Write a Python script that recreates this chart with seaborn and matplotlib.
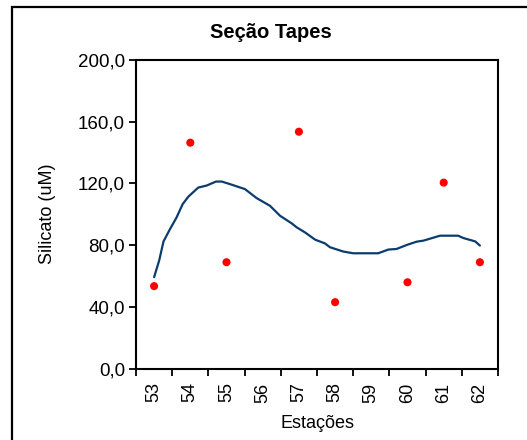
import matplotlib
matplotlib.use("Agg")
import matplotlib.pyplot as plt
import matplotlib.patches as mpatches
import numpy as np
import pandas as pd
import seaborn as sns

# Data
stations = [53, 54, 55, 56, 57, 58, 59, 60, 61, 62]
obs_station = [53, 54, 55, 57, 58, 60, 61, 62]
obs_silicato = [53.4, 146.4, 68.9, 153.5, 43.0, 55.9, 120.5, 68.9]

trend_x = [53.0, 53.14, 53.26, 53.44, 53.62, 53.79, 53.95, 54.22, 54.45, 54.71,
           54.87, 55.10, 55.51, 55.83, 56.20, 56.48, 56.80, 56.94, 57.17, 57.45,
           57.72, 57.86, 58.23, 58.50, 59.19, 59.47, 59.70, 59.98, 60.25, 60.44,
           60.90, 61.40, 61.54, 61.87, 62.0]
trend_y = [59.2, 70.0, 82.4, 90.4, 97.9, 106.6, 111.5, 117.3, 118.6, 121.2,
           121.2, 119.5, 116.3, 110.5, 105.5, 99.0, 94.1, 91.5, 88.2, 83.5,
           81.1, 78.6, 75.8, 74.7, 74.7, 77.1, 77.5, 80.1, 82.2, 82.9,
           86.1, 86.1, 84.6, 82.4, 79.7]

y_ticks = [0, 40, 80, 120, 160, 200]
y_labels = ["0,0", "40,0", "80,0", "120,0", "160,0", "200,0"]

sns.set_theme(style="white")
plt.rcParams['font.family'] = ['Liberation Sans', 'DejaVu Sans']
plt.rcParams.update({"text.color": "black", "axes.labelcolor": "black",
                     "xtick.color": "black", "ytick.color": "black"})

fig = plt.figure(figsize=(5.27, 4.4), dpi=100)
ax = fig.add_axes([136 / 527, 1 - 368.5 / 440, (498 - 136) / 527, (368.5 - 60) / 440])

df_obs = pd.DataFrame({"Estação": obs_station, "Silicato": obs_silicato})
df_tr = pd.DataFrame({"x": trend_x, "y": trend_y})

sns.lineplot(data=df_tr, x="x", y="y", ax=ax, color="#0b3c6e", linewidth=1.6,
             sort=False, estimator=None)
sns.scatterplot(data=df_obs, x="Estação", y="Silicato", ax=ax, color="#ff0000",
                s=34, edgecolor="none", zorder=5)

ax.set_xlim(52.5, 62.5)
ax.set_ylim(0, 200)

# category boundaries as tick marks, labels at centers
ax.set_xticks(np.arange(52.5, 63.0, 1.0))
ax.set_xticklabels([])
ax.set_xticks(stations, minor=True)
ax.set_xticklabels([str(s) for s in stations], minor=True, rotation=90, fontsize=13)
ax.tick_params(axis="x", which="major", direction="out", length=5, width=1.3,
               color="black", bottom=True)
ax.tick_params(axis="x", which="minor", length=0, pad=10, bottom=True)

ax.set_yticks(y_ticks)
ax.set_yticklabels(y_labels, fontsize=13.5)
ax.tick_params(axis="y", direction="out", length=5, width=1.3, color="black",
               left=True, pad=3)

for sp in ax.spines.values():
    sp.set_visible(True)
    sp.set_color("black")
    sp.set_linewidth(1.5)

ax.set_xlabel("Estações", fontsize=13, labelpad=9)
ax.set_ylabel("Silicato (uM)", fontsize=13, labelpad=16)
ax.set_title("Seção Tapes", fontsize=14.5, fontweight="bold", x=(270.5 - 136) / (498 - 136), pad=16)

# outer chart border
rect = mpatches.Rectangle((12 / 527, -0.05), 1.1, 1 - 7 / 440 + 0.05,
                          transform=fig.transFigure, fill=False,
                          edgecolor="black", linewidth=1.6, clip_on=False)
fig.patches.append(rect)

fig.savefig("out.png", dpi=100)
